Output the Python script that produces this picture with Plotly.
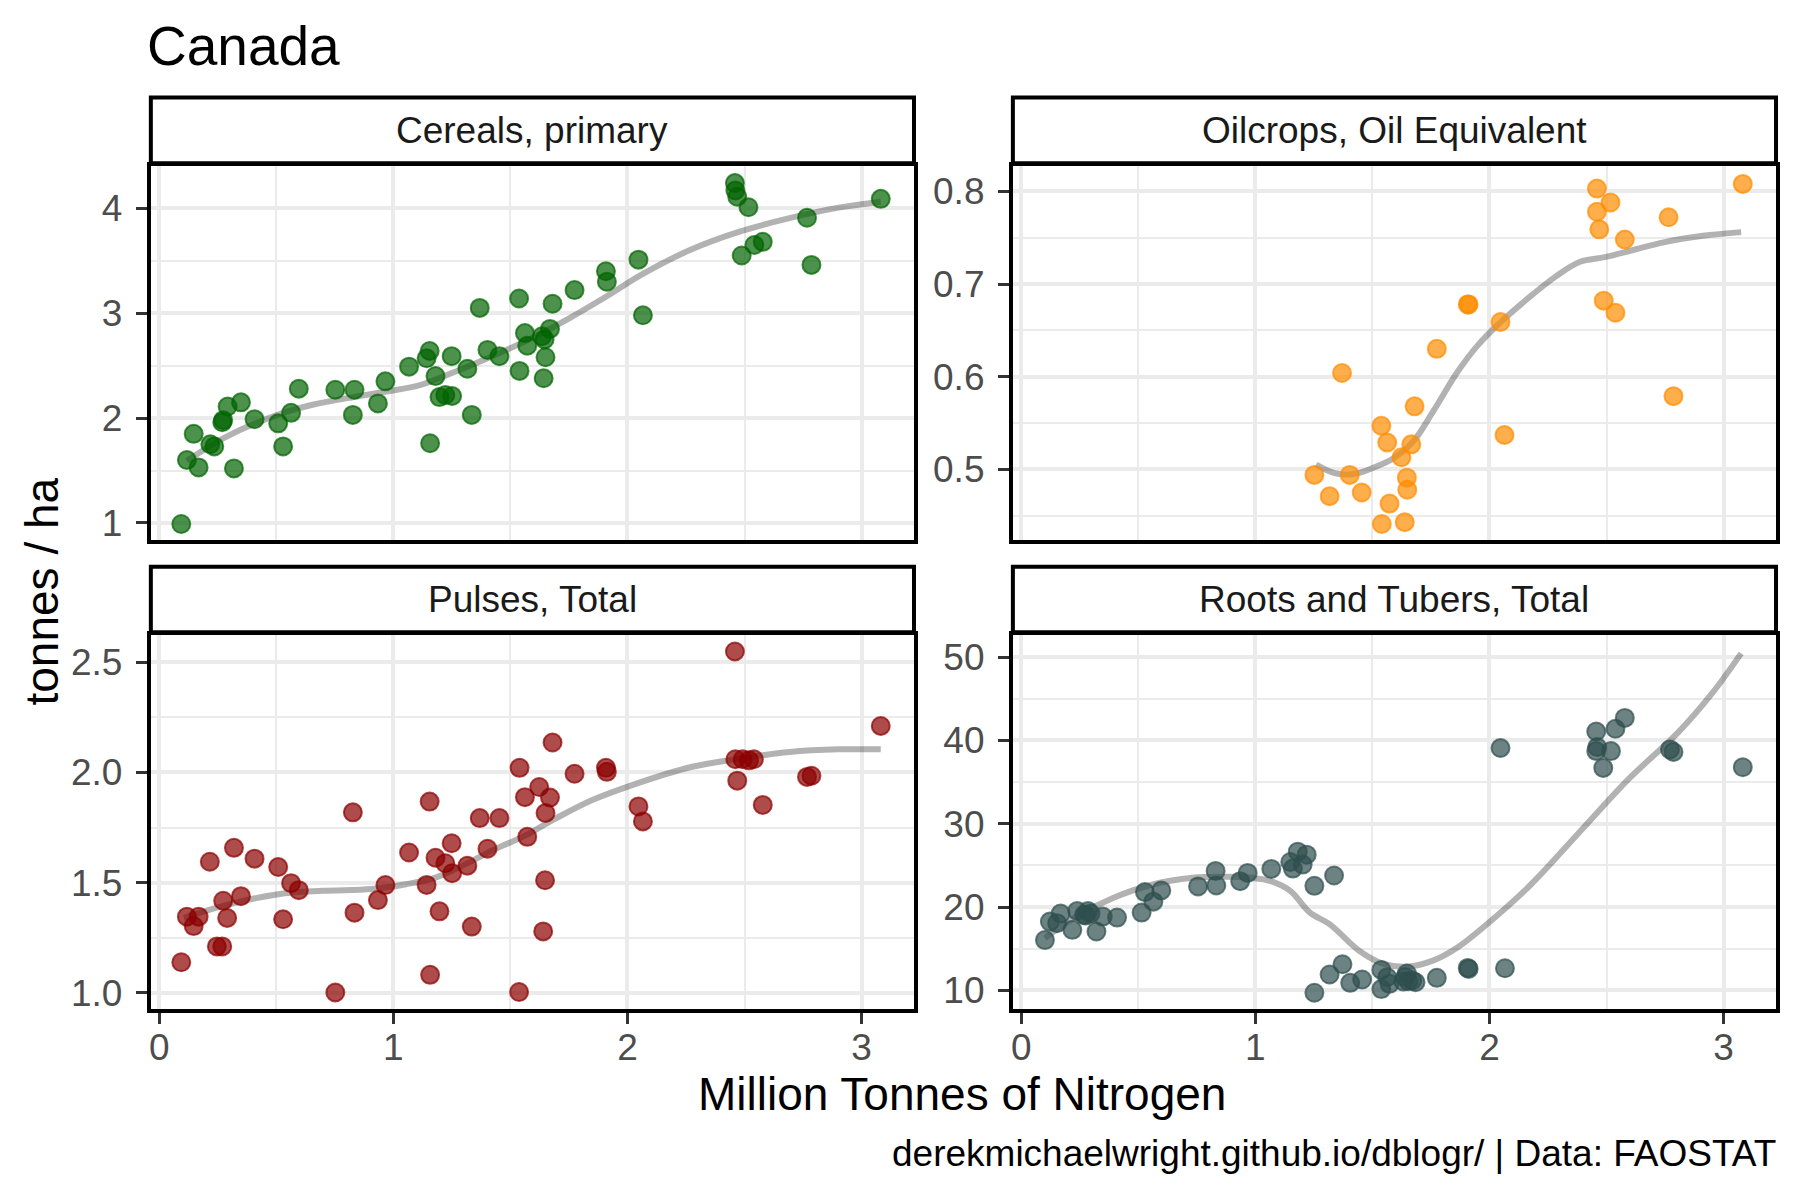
import plotly.graph_objects as go

FONT = 'Liberation Sans, Arial, sans-serif'

# nitrogen use (million tonnes) and yields (tonnes / ha)
CEREAL_X = [0.094, 0.118, 0.147, 0.168, 0.218, 0.235, 0.269, 0.273, 0.292, 0.319,
            0.349, 0.407, 0.508, 0.529, 0.563, 0.596, 0.752, 0.827, 0.834, 0.934,
            0.966, 1.067, 1.142, 1.155, 1.157, 1.180, 1.197, 1.222, 1.251, 1.249,
            1.316, 1.335, 1.369, 1.402, 1.453, 1.537, 1.539, 1.562, 1.572, 1.635,
            1.646, 1.642, 1.650, 1.669, 1.680, 1.774, 1.908, 1.912, 2.047, 2.066,
            2.459, 2.461, 2.469, 2.517, 2.488, 2.542, 2.578, 2.767, 2.786, 3.082]
CEREAL_Y = [0.99, 1.60, 1.85, 1.53, 1.75, 1.73, 1.96, 1.98, 2.11, 1.52,
            2.15, 1.99, 1.95, 1.73, 2.05, 2.28, 2.27, 2.03, 2.27, 2.14,
            2.35, 2.49, 2.57, 2.64, 1.76, 2.40, 2.20, 2.22, 2.21, 2.59,
            2.47, 2.03, 3.05, 2.65, 2.59, 3.14, 2.45, 2.81, 2.69, 2.78,
            2.75, 2.38, 2.58, 2.85, 3.09, 3.22, 3.40, 3.30, 3.51, 2.98,
            4.24, 4.17, 4.11, 4.01, 3.55, 3.65, 3.68, 3.91, 3.46, 4.09]

OIL_X = [1.252, 1.317, 1.370, 1.403, 1.454, 1.538, 1.563, 1.540, 1.573, 1.624,
         1.638, 1.647, 1.649, 1.666, 1.680, 1.775, 1.907, 1.911, 2.047, 2.064,
         2.459, 2.459, 2.469, 2.488, 2.517, 2.538, 2.578, 2.765, 2.786, 3.082]
OIL_Y = [0.494, 0.471, 0.604, 0.494, 0.475, 0.547, 0.529, 0.441, 0.463, 0.513,
         0.443, 0.491, 0.478, 0.527, 0.568, 0.630, 0.678, 0.678, 0.659, 0.537,
         0.803, 0.778, 0.759, 0.682, 0.788, 0.669, 0.748, 0.772, 0.579, 0.808]

PULSE_X = [0.094, 0.118, 0.147, 0.168, 0.216, 0.246, 0.269, 0.273, 0.290, 0.319,
           0.349, 0.407, 0.508, 0.529, 0.563, 0.596, 0.752, 0.827, 0.834, 0.934,
           0.966, 1.067, 1.142, 1.155, 1.157, 1.180, 1.197, 1.222, 1.251, 1.249,
           1.316, 1.335, 1.369, 1.402, 1.453, 1.537, 1.539, 1.562, 1.572, 1.623,
           1.669, 1.648, 1.650, 1.640, 1.680, 1.774, 1.908, 1.912, 2.047, 2.066,
           2.459, 2.461, 2.469, 2.492, 2.519, 2.540, 2.578, 2.767, 2.786, 3.082]
PULSE_Y = [1.139, 1.346, 1.303, 1.346, 1.595, 1.211, 1.211, 1.418, 1.340, 1.658,
           1.439, 1.609, 1.571, 1.334, 1.498, 1.466, 1.002, 1.819, 1.364, 1.421,
           1.489, 1.637, 1.490, 1.868, 1.082, 1.613, 1.370, 1.588, 1.543, 1.679,
           1.577, 1.301, 1.793, 1.654, 1.793, 1.004, 2.021, 1.888, 1.708, 1.934,
           1.886, 1.511, 1.816, 1.279, 2.136, 1.994, 2.021, 2.003, 1.846, 1.778,
           2.549, 2.060, 1.963, 2.060, 2.055, 2.060, 1.853, 1.980, 1.985, 2.211]

ROOT_X = [0.101, 0.122, 0.153, 0.168, 0.218, 0.239, 0.268, 0.285, 0.296, 0.321,
          0.348, 0.409, 0.514, 0.528, 0.564, 0.598, 0.755, 0.830, 0.833, 0.935,
          0.967, 1.068, 1.149, 1.181, 1.160, 1.219, 1.202, 1.252, 1.336, 1.252,
          1.317, 1.372, 1.405, 1.456, 1.538, 1.538, 1.563, 1.573, 1.647, 1.653,
          1.670, 1.684, 1.632, 1.775, 1.907, 1.911, 2.047, 2.066, 2.456, 2.460,
          2.456, 2.519, 2.486, 2.538, 2.578, 2.771, 2.786, 3.082, 0.275, 1.640]
ROOT_Y = [16.04, 18.26, 18.07, 19.22, 17.27, 19.54, 19.06, 19.54, 19.22, 17.07,
          18.86, 18.74, 19.34, 21.80, 20.65, 22.00, 22.48, 24.34, 22.59, 23.11,
          24.10, 24.58, 25.41, 26.65, 24.62, 26.29, 25.10, 22.55, 23.79, 9.72,
          11.91, 13.14, 10.91, 11.31, 12.46, 10.16, 11.59, 10.79, 12.03, 11.11,
          11.19, 10.99, 11.07, 11.51, 12.70, 12.58, 39.08, 12.66, 41.07, 39.20,
          38.72, 38.72, 36.70, 41.39, 42.70, 38.92, 38.61, 36.78, 19.00, 11.60]

# smoothed trend lines
CEREAL_TX = [0.118, 0.277, 0.508, 0.655, 0.844, 0.970, 1.117, 1.264, 1.432, 1.600,
             1.747, 1.915, 2.062, 2.272, 2.482, 2.692, 2.902, 3.082]
CEREAL_TY = [1.592, 1.812, 2.033, 2.127, 2.206, 2.253, 2.316, 2.442, 2.599, 2.772,
             2.946, 3.166, 3.370, 3.607, 3.780, 3.906, 4.006, 4.063]
OIL_TX = [1.259, 1.338, 1.422, 1.506, 1.590, 1.674, 1.758, 1.863, 1.947, 2.031,
          2.157, 2.282, 2.387, 2.492, 2.618, 2.744, 2.912, 3.075]
OIL_TY = [0.505, 0.496, 0.495, 0.502, 0.512, 0.530, 0.562, 0.605, 0.633, 0.655,
          0.683, 0.708, 0.724, 0.729, 0.737, 0.745, 0.752, 0.756]
PULSE_TX = [0.105, 0.277, 0.508, 0.697, 0.907, 1.054, 1.180, 1.306, 1.432, 1.558,
            1.684, 1.852, 2.020, 2.272, 2.482, 2.692, 2.902, 3.082]
PULSE_TY = [1.340, 1.396, 1.448, 1.463, 1.471, 1.493, 1.523, 1.583, 1.651, 1.711,
            1.786, 1.876, 1.943, 2.025, 2.063, 2.093, 2.105, 2.105]
ROOT_TX = [0.101, 0.227, 0.394, 0.562, 0.730, 0.877, 0.982, 1.066, 1.150, 1.233,
           1.317, 1.443, 1.548, 1.653, 1.758, 1.863, 1.989, 2.177, 2.387, 2.597,
           2.807, 2.954, 3.075]
ROOT_TY = [16.28, 18.74, 21.12, 22.71, 23.51, 23.63, 23.51, 23.11, 21.92, 19.34,
           17.95, 14.77, 13.18, 12.86, 13.58, 15.16, 17.95, 22.71, 29.07, 35.43,
           40.99, 45.76, 50.44]

# page positions in px (the html body keeps an 8px margin)
OFF = 8
FW, FH = 1800 - OFF, 1200 - OFF


def fx(px):
    return (px - OFF) / FW


def fy(py):
    return 1 - (py - OFF) / FH


LEFT, RIGHT = [149, 913], [1012, 1776]
TOP, BOTTOM = [167, 542], [638, 1013]
TOP_STRIP, BOTTOM_STRIP = [98, 164], [569, 635]

panels = [
    dict(name='Cereals, primary', x=CEREAL_X, y=CEREAL_Y, tx=CEREAL_TX, ty=CEREAL_TY,
         color='0,100,0', yrange=[0.84, 4.40], dtick=1, fmt='d',
         xdom=LEFT, ydom=TOP, strip=TOP_STRIP, bottom=False),
    dict(name='Oilcrops, Oil Equivalent', x=OIL_X, y=OIL_Y, tx=OIL_TX, ty=OIL_TY,
         color='255,140,0', yrange=[0.424, 0.827], dtick=0.1, fmt='.1f',
         xdom=RIGHT, ydom=TOP, strip=TOP_STRIP, bottom=False),
    dict(name='Pulses, Total', x=PULSE_X, y=PULSE_Y, tx=PULSE_TX, ty=PULSE_TY,
         color='139,0,0', yrange=[0.928, 2.622], dtick=0.5, fmt='.1f',
         xdom=LEFT, ydom=BOTTOM, strip=BOTTOM_STRIP, bottom=True),
    dict(name='Roots and Tubers, Total', x=ROOT_X, y=ROOT_Y, tx=ROOT_TX, ty=ROOT_TY,
         color='47,79,79', yrange=[7.8, 52.6], dtick=10, fmt='d',
         xdom=RIGHT, ydom=BOTTOM, strip=BOTTOM_STRIP, bottom=True),
]

GRID = '#EBEBEB'

fig = go.Figure()
shapes = []
annotations = []
layout_axes = {}

for i, p in enumerate(panels, start=1):
    xa = 'x' if i == 1 else f'x{i}'
    ya = 'y' if i == 1 else f'y{i}'
    fig.add_trace(go.Scatter(
        x=p['tx'], y=p['ty'], mode='lines', line_shape='spline',
        line=dict(color='rgba(0,0,0,0.3)', width=6),
        xaxis=xa, yaxis=ya, showlegend=False, hoverinfo='skip',
    ))
    fig.add_trace(go.Scatter(
        x=p['x'], y=p['y'], mode='markers', name=p['name'],
        marker=dict(size=18, color=f"rgba({p['color']},0.7)",
                    line=dict(color=f"rgba({p['color']},0.7)", width=2)),
        xaxis=xa, yaxis=ya, showlegend=False,
    ))

    xdom = [fx(p['xdom'][0]), fx(p['xdom'][1])]
    ydom = [fy(p['ydom'][1]), fy(p['ydom'][0])]
    layout_axes['xaxis' if i == 1 else f'xaxis{i}'] = dict(
        domain=xdom, anchor=ya, range=[-0.036, 3.224],
        tickvals=[0, 1, 2, 3], showticklabels=p['bottom'],
        ticks='outside' if p['bottom'] else '', ticklen=11, tickwidth=3,
        tickcolor='#333333', ticklabelstandoff=-8,
        tickfont=dict(family=FONT, size=37, color='#4D4D4D'),
        showgrid=True, gridcolor=GRID, gridwidth=4,
        minor=dict(tickvals=[0.5, 1.5, 2.5], showgrid=True, gridcolor=GRID, gridwidth=2),
        showline=True, linecolor='black', linewidth=4, mirror=True, zeroline=False,
    )
    layout_axes['yaxis' if i == 1 else f'yaxis{i}'] = dict(
        domain=ydom, anchor=xa, range=p['yrange'], dtick=p['dtick'],
        tickformat=p['fmt'], ticks='outside', ticklen=11, tickwidth=3,
        tickcolor='#333333', ticklabelstandoff=6,
        tickfont=dict(family=FONT, size=37, color='#4D4D4D'),
        showgrid=True, gridcolor=GRID, gridwidth=4,
        minor=dict(dtick=p['dtick'] / 2, showgrid=True, gridcolor=GRID, gridwidth=2),
        showline=True, linecolor='black', linewidth=4, mirror=True, zeroline=False,
    )

    # facet strip
    shapes.append(dict(
        type='rect', xref='paper', yref='paper',
        x0=xdom[0], x1=xdom[1],
        y0=fy(p['strip'][1]), y1=fy(p['strip'][0]),
        fillcolor='white', line=dict(color='black', width=4), layer='above',
    ))
    annotations.append(dict(
        text=p['name'], xref='paper', yref='paper',
        x=(xdom[0] + xdom[1]) / 2, y=fy((p['strip'][0] + p['strip'][1]) / 2),
        xanchor='center', yanchor='middle', showarrow=False,
        font=dict(family=FONT, size=37, color='#1A1A1A'),
    ))

annotations += [
    dict(text='Canada', xref='paper', yref='paper', x=fx(143), y=fy(46),
         xanchor='left', yanchor='middle', showarrow=False,
         font=dict(family=FONT, size=55, color='black')),
    dict(text='Million Tonnes of Nitrogen', xref='paper', yref='paper',
         x=fx(961), y=fy(1099), xanchor='center', yanchor='middle',
         showarrow=False, font=dict(family=FONT, size=46, color='black')),
    dict(text='tonnes / ha', xref='paper', yref='paper', x=fx(40), y=fy(594),
         xanchor='center', yanchor='middle', textangle=-90, showarrow=False,
         font=dict(family=FONT, size=46, color='black')),
    dict(text='derekmichaelwright.github.io/dblogr/ | Data: FAOSTAT',
         xref='paper', yref='paper', x=fx(1778), y=fy(1158),
         xanchor='right', yanchor='middle', showarrow=False,
         font=dict(family=FONT, size=37, color='black')),
]

fig.update_layout(
    width=FW, height=FH,
    margin=dict(l=0, r=0, t=0, b=0),
    paper_bgcolor='white', plot_bgcolor='white',
    font=dict(family=FONT),
    shapes=shapes, annotations=annotations,
    **layout_axes,
)

fig.write_html('out.html')
